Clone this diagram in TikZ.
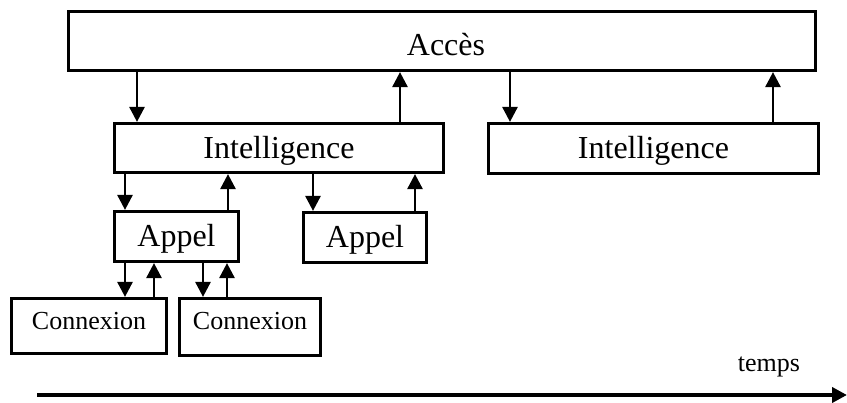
\documentclass[tikz,border=0pt]{standalone}
\usepackage{fontspec}
\setmainfont{Liberation Serif}
\usetikzlibrary{arrows.meta}
\begin{document}
\begin{tikzpicture}[x=1pt,y=-1pt,
  box/.style={draw, line width=3.2pt, inner sep=0pt, text depth=0pt,
    font=\fontsize{32}{36}\selectfont},
  smallbox/.style={box, font=\fontsize{26}{30}\selectfont},
  % text height sets how far the baseline sits below the box centre (half of it)
  base/.style={text height=#1},
  arr/.style={line width=2.7pt, -{Triangle[length=15pt,width=15pt]}},
  timearr/.style={line width=4pt, -{Triangle[length=15pt,width=15pt]}}]
\useasboundingbox (0,0) rectangle (847,403);

% boxes
\node[box, base=30pt, minimum width=747pt, minimum height=59pt] (acc) at (442,41) {\hspace*{8pt}Accès};
\node[box, base=22pt, minimum width=329pt, minimum height=49pt] (i1) at (279,148) {Intelligence};
\node[box, base=21pt, minimum width=330pt, minimum height=50pt] (i2) at (653.5,148.5) {Intelligence};
\node[box, base=21pt, minimum width=124pt, minimum height=50pt] (ap1) at (176.5,236.5) {Appel};
\node[box, base=21pt, minimum width=123pt, minimum height=50pt] (ap2) at (365,237.5) {Appel};
\node[smallbox, base=7pt, minimum width=155pt, minimum height=55pt] (c1) at (89,326) {Connexion};
\node[smallbox, base=6pt, minimum width=141pt, minimum height=57pt] (c2) at (250,327) {Connexion};

% Accès <-> Intelligence
\draw[arr] (137,0 |- acc.south) -- (137,0 |- i1.north);
\draw[arr] (400,0 |- i1.north) -- (400,0 |- acc.south);
\draw[arr] (510,0 |- acc.south) -- (510,0 |- i2.north);
\draw[arr] (773,0 |- i2.north) -- (773,0 |- acc.south);

% Intelligence <-> Appel
\draw[arr] (125,0 |- i1.south) -- (125,0 |- ap1.north);
\draw[arr] (228,0 |- ap1.north) -- (228,0 |- i1.south);
\draw[arr] (313,0 |- i1.south) -- (313,0 |- ap2.north);
\draw[arr] (415,0 |- ap2.north) -- (415,0 |- i1.south);

% Appel <-> Connexion
\draw[arr] (125,0 |- ap1.south) -- (125,0 |- c1.north);
\draw[arr] (154,0 |- c1.north) -- (154,0 |- ap1.south);
\draw[arr] (203,0 |- ap1.south) -- (203,0 |- c2.north);
\draw[arr] (227,0 |- c2.north) -- (227,0 |- ap1.south);

% time axis
\coordinate (t0) at (37,395);
\coordinate (t1) at (847,395);
\draw[timearr] (t0) -- (t1);
\node[anchor=base, inner sep=0pt, font=\fontsize{26}{30}\selectfont] (temps) at (769,372) {temps};
\end{tikzpicture}
\end{document}
